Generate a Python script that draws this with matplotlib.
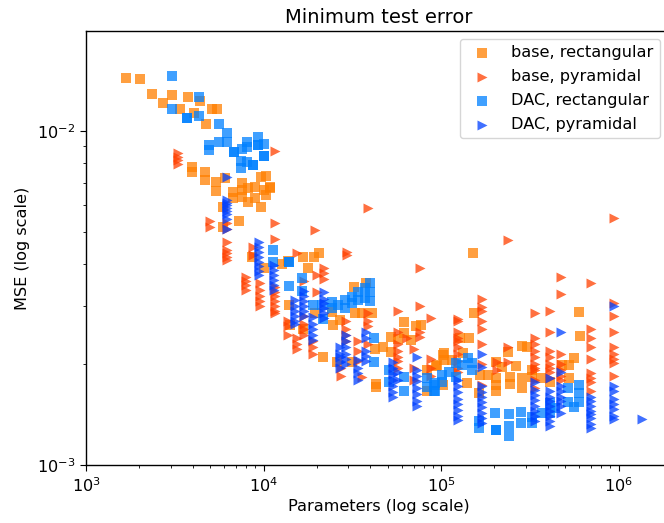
import matplotlib
matplotlib.use('Agg')
import matplotlib.pyplot as plt

# values, mse given in units of 1e-3
base_rect_params = [1.68e3, 2.01e3, 2.35e3, 2.72e3, 3.05e3, 3.76e3, 4.39e3, 3.39e3, 4.06e3, 5.13e3, 5.47e3, 4.74e3,
                    3.95e3, 3.95e3, 4.68e3, 4.68e3, 5.40e3, 5.40e3, 6.07e3, 7.57e3, 7.57e3, 7.57e3, 6.73e3, 6.73e3,
                    8.18e3, 8.18e3, 8.95e3, 8.95e3, 10.0e3, 10.9e3, 10.9e3, 9.68e3, 10.3e3, 10.3e3, 9.68e3, 5.92e3,
                    7.28e3, 5.92e3, 8.6e3, 10.1e3, 12.7e3, 13.7e3, 16.7e3, 19.2e3, 20.5e3, 17.8e3, 13.9e3, 14.1e3,
                    16.7e3, 19.5e3, 21.6e3, 24.6e3, 32.4e3, 37.7e3, 32.9e3, 35.8e3, 40.8e3, 26.9e3, 24.3e3, 42.5e3,
                    47e3, 52e3, 52e3, 57e3, 62e3, 72e3, 77e3, 62e3, 68e3, 43e3, 43e3, 31.6e3, 26e3, 83e3, 83e3, 95e3,
                    102e3, 151e3, 153e3, 600e3, 607e3, 144e3, 128e3, 240e3, 285e3, 305e3, 265e3, 204e3, 222e3, 104e3,
                    104e3, 94e3, 115e3, 133e3, 166e3, 183e3, 204e3, 204e3, 204e3, 245e3, 245e3, 285e3, 285e3, 325e3,
                    325e3, 368e3, 411e3, 480e3, 525e3, 525e3, 560e3, 141e3, 103e3, 163e3]
base_rect_mse = [14.4, 14.3, 12.9, 12.1, 12.8, 12.6, 12.3, 11.6, 11.3, 11.6, 11.6, 10.5,
                 7.8, 7.54, 7.54, 7.13, 7.04, 6.61, 7.23, 6.99, 6.66, 6.34, 6.57, 6.3,
                 6.75, 6.13, 6.8, 6.3, 6.66, 6.8, 6.75, 7.28, 7.33, 6.43, 5.92, 5.92,
                 5.37, 5.16, 4.2, 3.89, 4.0, 4.08, 4.2, 4.2, 4.31, 3.89, 3.01, 2.63,
                 2.55, 2.85, 2.1, 2.63, 3.4, 3.5, 2.85, 2.85, 2.85, 2.72, 2.88, 2.23,
                 2.25, 2.42, 2.18, 2.39, 2.68, 2.6, 2.63, 2.49, 2.37, 1.75, 1.71, 2.03, 2.03, 1.66, 1.92, 1.99,
                 2.13, 4.31, 2.85, 2.87, 2.43, 2.4, 2.4, 2.18, 2.27, 2.25, 1.98, 2.03, 1.96, 2.16,
                 2.06, 1.98, 2.06, 2.16, 1.86, 1.86, 1.82, 1.74, 1.66, 1.84, 1.75, 1.82, 1.7, 1.92,
                 1.84, 1.82, 1.77, 1.99, 1.99, 1.82, 2.09, 1.76, 1.74, 1.64]

# pyramidal runs sit in columns, one parameter count -> several mse values
base_pyr_cols = {
    3.3e3: [8.6, 8.36, 8.2, 7.97],
    5e3: [5.38, 5.16],
    6.2e3: [5.3, 5.1, 4.65, 4.4, 4.3, 4.2, 4.1],
    8e3: [3.65, 3.55, 3.45, 3.35],
    8.7e3: [4.5, 4.25],
    9.5e3: [3.5, 3.35, 3.2, 3.1, 3.0],
    11.6e3: [8.7, 5.3, 4.75, 3.4, 3.3, 3.2, 3.1, 3.0, 2.9, 2.85],
    13.7e3: [2.7, 2.6, 2.45],
    15.4e3: [4.3, 2.4, 2.3, 2.22],
    17e3: [3.55, 2.8, 2.65, 2.55, 2.45],
    19e3: [2.35, 2.25, 2.15],
    19.5e3: [5.05],
    20e3: [3.7, 3.3],
    22e3: [3.9, 3.75, 3.6],
    27.5e3: [1.95, 1.85],
    29e3: [2.7, 2.55, 2.45, 2.35],
    29.5e3: [4.35, 4.25],
    34e3: [2.35, 2.2, 2.05],
    36e3: [1.83],
    38.8e3: [5.9],
    39e3: [2.85, 2.7, 2.6, 2.3],
    57e3: [2.9, 2.5, 2.3, 2.2, 2.1, 2.05, 1.95],
    64e3: [2.4],
    70e3: [2.23, 1.95, 1.8],
    76e3: [3.9, 3.0, 2.5, 2.42],
    88e3: [2.75, 2.07, 1.95, 1.85],
    125e3: [2.73, 2.7, 2.5, 2.4, 2.35, 2.25, 2.15, 2.05, 1.95, 1.9],
    170e3: [3.15, 2.98, 2.9, 2.7, 2.55, 2.3, 2.0, 1.73],
    207e3: [2.03, 1.93],
    238e3: [4.72, 2.25, 2.03],
    339e3: [2.85, 2.4, 2.3, 2.2, 2.1, 2.0, 1.95, 1.92, 1.8, 1.7],
    411e3: [2.9, 2.5, 2.2, 2.1, 2.0, 1.95, 1.9, 1.82],
    474e3: [3.65, 3.25, 2.15, 2.0, 1.92, 1.85, 1.8],
    700e3: [3.5, 2.55, 2.4, 2.25, 2.07, 1.88, 1.82, 1.77, 1.67],
    944e3: [5.5, 3.05, 2.8, 2.5, 2.25, 2.15, 2.08, 2.02, 1.85],
}

dac_rect_params = [3.05e3, 4.33e3, 3.05e3, 3.7e3, 3.7e3, 4.33e3, 5.6e3, 6.2e3, 6.2e3, 5.6e3, 4.93e3, 4.93e3,
                   6.8e3, 6.8e3, 7.57e3, 8.07e3, 8.07e3, 9.3e3, 9.3e3, 9.3e3, 10.1e3, 10e3, 10e3, 7.47e3, 7.47e3,
                   8.07e3, 8.7e3, 8.7e3, 11.3e3, 11.3e3, 13.9e3, 13.9e3, 16.5e3, 13.9e3, 16.5e3, 19e3, 21.4e3,
                   24.3e3, 24.3e3, 26.3e3, 28.8e3, 28.8e3, 31.5e3, 31.5e3, 34e3, 34e3, 37.3e3, 37.3e3, 39.8e3,
                   39.8e3, 39.8e3, 21.6e3, 42e3, 42e3, 51e3, 51e3, 62e3, 62e3, 83e3, 83e3, 92.5e3, 92.5e3,
                   91e3, 91e3, 101e3, 101e3, 111e3, 122e3, 122e3, 131e3, 142e3, 150e3, 150e3, 164e3, 164e3,
                   201e3, 204e3, 204e3, 242e3, 242e3, 242e3, 282e3, 282e3, 326e3, 326e3, 371e3, 411e3, 411e3,
                   439e3, 519e3, 519e3, 561e3, 599e3, 599e3, 599e3]
dac_rect_mse = [14.6, 12.6, 11.6, 10.94, 10.94, 11.1, 10.5, 9.86, 9.27, 9.27, 9.08, 8.77,
                8.65, 8.65, 8.84, 9.27, 8.96, 9.6, 9.08, 9.08, 9.14, 8.4, 8.4, 8.13, 7.75,
                8.07, 7.91, 7.91, 4.4, 4.05, 4.05, 4.05, 3.63, 3.44, 3.32, 3.01, 3.01,
                3.08, 2.95, 3.01, 3.12, 2.95, 3.18, 3.05, 3.3, 3.12, 3.39, 3.16, 3.5,
                3.3, 3.1, 2.74, 2.4, 2.03, 1.92, 1.77, 1.84, 1.66, 1.82, 1.71, 1.76, 1.66,
                1.74, 1.66, 1.86, 1.77, 1.9, 2.02, 1.84, 1.99, 2.09, 2.02, 1.92, 1.35, 1.29,
                1.43, 1.27, 1.27, 1.42, 1.31, 1.22, 1.44, 1.34, 1.39, 1.34, 1.43, 1.53, 1.43,
                1.48, 1.70, 1.54, 1.49, 1.74, 1.64, 1.54]

dac_pyr_cols = {
    6.2e3: [7.3, 6.2, 6.1, 6.0, 5.9, 5.75, 5.65, 5.45, 5.1],
    9.4e3: [4.65, 4.5, 4.35, 4.2, 4.05, 3.95, 3.8, 3.7],
    11.5e3: [3.97, 3.83, 3.7, 3.58, 3.45, 3.35],
    15e3: [3.12, 3.0, 2.9, 2.8, 2.7, 2.65],
    16.9e3: [3.33, 3.2, 3.1, 3.0, 2.9, 2.8],
    19e3: [2.77, 2.65, 2.55, 2.45, 2.37],
    21.9e3: [3.3, 3.15, 3.05, 2.95, 2.85, 2.75],
    27e3: [2.25, 2.15, 2.1, 2.03, 1.95],
    29e3: [2.45, 2.35, 2.25, 2.15, 2.08, 2.0],
    34e3: [2.06, 1.95, 1.88, 1.8],
    38e3: [2.5, 2.4, 2.2, 2.12, 2.05],
    53.7e3: [2.04, 1.95, 1.87, 1.8, 1.72, 1.65, 1.6],
    57e3: [1.9, 1.8],
    73e3: [2.1, 1.92, 1.85, 1.78, 1.7, 1.63, 1.55, 1.5],
    125e3: [1.8, 1.72, 1.65, 1.58, 1.52, 1.46, 1.4, 1.36],
    170e3: [2.15, 1.96, 1.72, 1.65, 1.6, 1.54, 1.49, 1.43, 1.38, 1.34],
    339e3: [1.77, 1.68, 1.62, 1.56, 1.5, 1.45, 1.4, 1.35],
    411e3: [1.82, 1.66, 1.6, 1.55, 1.5, 1.45, 1.4, 1.35, 1.31],
    474e3: [2.5, 1.9, 1.72, 1.66, 1.6, 1.55, 1.5, 1.43],
    700e3: [1.6, 1.55, 1.5, 1.45, 1.42, 1.38, 1.33, 1.29],
    944e3: [3.0, 1.72, 1.67, 1.58, 1.52, 1.47, 1.4, 1.37],
    1.355e6: [1.37],
}

def flatten(cols):
    xs, ys = [], []
    for p, vals in cols.items():
        for v in vals:
            xs.append(p)
            ys.append(v)
    return xs, ys

base_pyr_params, base_pyr_mse = flatten(base_pyr_cols)
dac_pyr_params, dac_pyr_mse = flatten(dac_pyr_cols)

plt.rcParams['axes.linewidth'] = 1.0
plt.rcParams['xtick.major.size'] = 4.5
plt.rcParams['ytick.major.size'] = 4.5
plt.rcParams['xtick.minor.size'] = 2.5
plt.rcParams['ytick.minor.size'] = 2.5

fig = plt.figure(figsize=(6.64, 5.23), dpi=100)
# right spine falls just outside the picture, same as in the reference
ax = fig.add_axes([86 / 664, 1 - 465 / 523, 586 / 664, 434 / 523])

ax.scatter(base_rect_params, [m * 1e-3 for m in base_rect_mse], marker='s', c='#ff7f00', alpha=0.75, s=46, linewidths=0, label='base, rectangular')
ax.scatter(base_pyr_params, [m * 1e-3 for m in base_pyr_mse], marker='>', c='#ff4000', alpha=0.75, s=52, linewidths=0, label='base, pyramidal')
ax.scatter(dac_rect_params, [m * 1e-3 for m in dac_rect_mse], marker='s', c='#0080ff', alpha=0.75, s=46, linewidths=0, label='DAC, rectangular')
ax.scatter(dac_pyr_params, [m * 1e-3 for m in dac_pyr_mse], marker='>', c='#0040ff', alpha=0.75, s=52, linewidths=0, label='DAC, pyramidal')

ax.set_xscale('log')
ax.set_yscale('log')
ax.set_xlim(1e3, 10 ** (3 + 586 / 177.5))
ax.set_ylim(1e-3, 10 ** (-2 + 100 / 334))
ax.set_xlabel('Parameters (log scale)', fontsize=11.6, labelpad=3)
ax.set_ylabel('MSE (log scale)', fontsize=11.6, labelpad=5)
ax.set_title('Minimum test error', fontsize=14)
ax.tick_params(labelsize=11.6)
ax.legend(loc='upper right', fontsize=11.6, borderaxespad=0, labelspacing=0.55,
          bbox_to_anchor=(660 / 664, 1 - 39 / 523), bbox_transform=fig.transFigure)

fig.savefig('out.png', dpi=100)
